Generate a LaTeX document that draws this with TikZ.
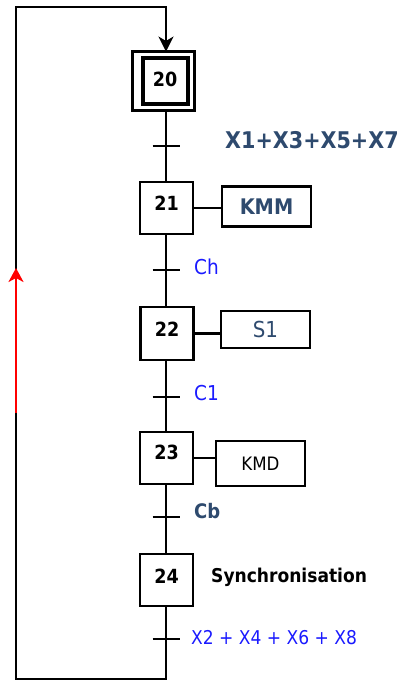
\documentclass[tikz,border=0pt]{standalone}
\usepackage{fontspec}
\setmainfont{DejaVu Sans Condensed}
\usetikzlibrary{arrows.meta}
\definecolor{slate}{HTML}{2E4A6E}
\definecolor{tblue}{HTML}{1A1AFF}
\tikzset{
  stepbox/.style={draw=black, line width=2.2pt, minimum width=53pt, minimum height=52pt, inner sep=0pt},
  actbox/.style={draw=black, line width=2.2pt, minimum width=89pt, inner sep=0pt},
  link/.style={draw=black, line width=2.3pt},
  tick/.style={draw=black, line width=2.2pt},
  num/.style={font=\fontsize{19.5}{20}\selectfont\bfseries, inner sep=0pt},
  condA/.style={font=\fontsize{20.5}{21}\selectfont, text=tblue, inner sep=0pt, anchor=west},
}
\begin{document}
\begin{tikzpicture}[x=1pt,y=-1pt]
\useasboundingbox (0,0) rectangle (411,681);
% step 20 (initial, double frame)
\node[draw=black, line width=3pt, minimum width=62pt, minimum height=59pt, inner sep=0pt] (s20) at (163,81) {};
\node[draw=black, line width=4pt, minimum width=45pt, minimum height=46pt, inner sep=0pt] (s20i) at (165,81) {};
\node[num] (n20) at (165,79) {20};
% steps
\node[stepbox] (s21) at (166.5,208) {};
\node[num] (n21) at (166.5,203) {21};
\node[stepbox, minimum height=53pt] (s22) at (167,333.5) {};
\node[num] (n22) at (167,329) {22};
\node[stepbox] (s23) at (166.5,458) {};
\node[num] (n23) at (166.5,452) {23};
\node[stepbox] (s24) at (166.5,580) {};
\node[num] (n24) at (166.5,576) {24};
% actions
\node[actbox, minimum height=40pt, font=\fontsize{21.5}{22}\selectfont\bfseries, text=slate] (a21) at (266.5,206.5) {KMM};
\node[actbox, minimum height=37pt, font=\fontsize{22}{22}\selectfont, text=slate] (a22) at (265.5,329.5) {S1};
\node[actbox, minimum height=45pt, font=\fontsize{18.5}{19}\selectfont] (a23) at (260.5,463.5) {KMD};
\node[font=\fontsize{19}{19}\selectfont\bfseries, anchor=west, inner sep=0pt] (a24) at (211,577) {Synchronisation};
\draw[link] (s21.east) -- (s21.east -| a21.west);
\draw[link] (s22.east) -- (s22.east -| a22.west);
\draw[link] (s23.east) -- (s23.east -| a23.west);
% transitions
\coordinate (t1) at (166,146);
\coordinate (t2) at (166,270);
\coordinate (t3) at (166,397);
\coordinate (t4) at (166,517);
\coordinate (t5) at (166,639);
\draw[link] (s20.south -| t1) -- (s21.north -| t1);
\draw[link] (s21.south -| t2) -- (s22.north -| t2);
\draw[link] (s22.south -| t3) -- (s23.north -| t3);
\draw[link] (s23.south -| t4) -- (s24.north -| t4);
\foreach \t in {t1,t2,t3,t4,t5} {\draw[tick] ([xshift=-13.5pt]\t) -- ([xshift=13.5pt]\t);}
\node[font=\fontsize{23}{23}\selectfont\bfseries, text=slate, anchor=west, inner sep=0pt] (c1) at (225,140) {X1+X3+X5+X7};
\node[condA] (c2) at (194,267) {Ch};
\node[condA] (c3) at (194,393) {C1};
\node[font=\fontsize{20}{20}\selectfont\bfseries, text=slate, anchor=west, inner sep=0pt] (c4) at (194,511) {Cb};
\node[condA, font=\fontsize{19}{20}\selectfont] (c5) at (191,638) {X2 + X4 + X6 + X8};
% loop back
\coordinate (b1) at (166,679);
\coordinate (b2) at (16,679);
\coordinate (b3) at (16,7);
\coordinate (b4) at (166,7);
\draw[link, line join=miter] (s24.south -| b1) -- (b1) -- (b2) -- (b3) -- (b4) -- ([yshift=-2pt]s20.north -| b4);
\draw[black, line width=1pt, -{Stealth[length=15pt,width=15pt,inset=4.5pt]}] ([yshift=24pt]s20.north -| b4) -- ([yshift=-1.5pt]s20.north -| b4);
% red direction arrow
\coordinate (r1) at (16,413);
\coordinate (r2) at (16,268);
\draw[red, line width=2.3pt, -{Stealth[length=14pt,width=15pt,inset=4pt]}] (r1) -- (r2);
\end{tikzpicture}
\end{document}
